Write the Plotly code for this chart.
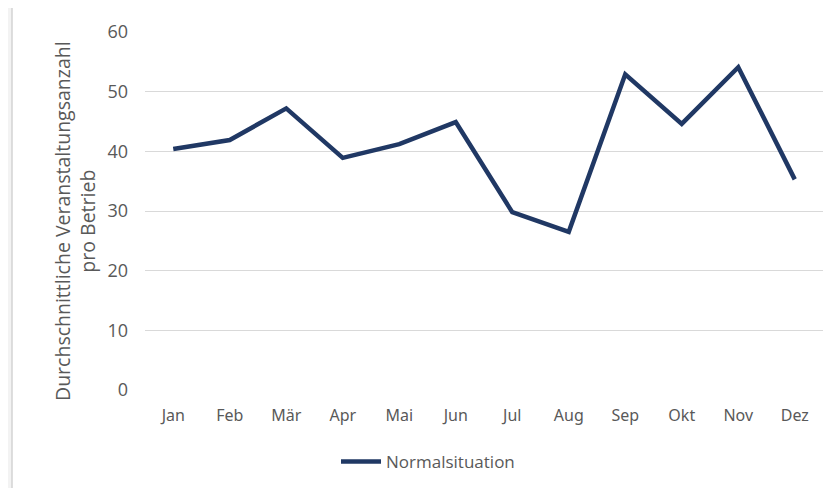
import plotly.graph_objects as go

months = ["Jan", "Feb", "Mär", "Apr", "Mai", "Jun", "Jul", "Aug", "Sep", "Okt", "Nov", "Dez"]
normalsituation = [40.4, 41.9, 47.2, 38.9, 41.2, 44.9, 29.8, 26.5, 52.9, 44.6, 54.1, 35.3]
y_ticks = [0, 10, 20, 30, 40, 50, 60]
series_name = "Normalsituation"
y_title = "Durchschnittliche Veranstaltungsanzahl<br>pro Betrieb"

# page body has an 8px margin, so the figure is sized/offset to compensate
OFF = 8
W, H = 836 - OFF, 488 - OFF
L, R, T, B = 145 - OFF, 13, 32 - OFF, 98
PW, PH = W - L - R, H - T - B

fig = go.Figure()
fig.add_trace(go.Scatter(
    x=months, y=normalsituation, mode="lines", name=series_name,
    line=dict(color="#203864", width=4.5), showlegend=True,
))

fig.update_layout(
    width=W, height=H,
    margin=dict(l=L, r=R, t=T, b=B, autoexpand=False),
    paper_bgcolor="#f3f3f3",
    plot_bgcolor="white",
    font=dict(family="Open Sans", color="#595959", size=14),
    xaxis=dict(type="category", range=[-0.5, 11.5], showgrid=False, showline=False,
               ticks="", tickfont=dict(size=16, family="Noto Sans", color="#595959"),
               ticklabelstandoff=14, automargin=False),
    yaxis=dict(range=[0, 60], tickvals=y_ticks, showgrid=True, gridcolor="#d9d9d9",
               gridwidth=1.3, zeroline=False, showline=False, ticks="",
               tickfont=dict(size=18, family="Open Sans", color="#595959"),
               ticklabelstandoff=16, automargin=False),
    showlegend=True,
    legend=dict(orientation="h", x=(336 - OFF) / W, xref="container", xanchor="left",
                y=(H - (462 - OFF)) / H, yref="container", yanchor="middle",
                font=dict(size=17, family="Open Sans", color="#595959"),
                itemwidth=40, bgcolor="rgba(0,0,0,0)"),
    shapes=[dict(type="rect", xref="paper", yref="paper",
                 x0=(12 - OFF - L) / PW, x1=(W + 5 - L) / PW,
                 y0=-(H + 5 - (H - B)) / PH, y1=(H - B - (7 - OFF)) / PH,
                 fillcolor="white", line=dict(color="#d4d4d4", width=1.5), layer="below")],
    annotations=[dict(text=y_title, xref="paper", yref="paper",
                      x=(75 - OFF - L) / PW, y=(H - B - (221 - OFF)) / PH,
                      xanchor="center", yanchor="middle", textangle=-90, showarrow=False,
                      font=dict(size=19.5, family="Open Sans", color="#595959"))],
)

fig.write_html("out.html")
